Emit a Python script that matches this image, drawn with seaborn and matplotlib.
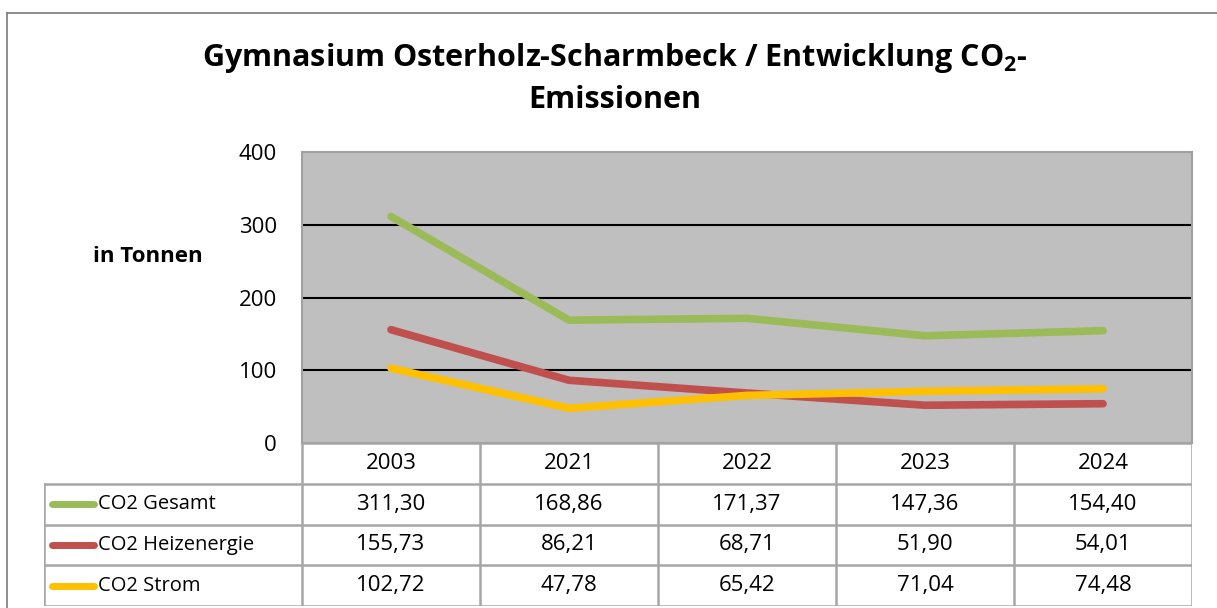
import matplotlib.pyplot as plt
import pandas as pd
import seaborn as sns
from matplotlib.lines import Line2D

years = ['2003', '2021', '2022', '2023', '2024']
gesamt = [311.30, 168.86, 171.37, 147.36, 154.40]
heizenergie = [155.73, 86.21, 68.71, 51.90, 54.01]
strom = [102.72, 47.78, 65.42, 71.04, 74.48]
series_names = ['CO2 Gesamt', 'CO2 Heizenergie', 'CO2 Strom']
series_colors = ['#9BBB59', '#C0504D', '#FFC000']

sns.set_theme(style='white')
plt.rcParams.update({
  'font.family': ['Open Sans', 'DejaVu Sans'],
  'text.color': 'black',
  'ytick.color': 'black',
  'ytick.labelcolor': 'black',
  'mathtext.fontset': 'custom',
  'mathtext.rm': 'Open Sans:bold',
  'mathtext.bf': 'Open Sans:bold',
})

df = pd.DataFrame({
  'year': years * 3,
  'value': gesamt + heizenergie + strom,
  'series': [s for s in series_names for _ in years],
})

W, H = 1217, 608
fig = plt.figure(figsize=(W / 100, H / 100), dpi=100)

def fx(px):
  return px / W

def fy(py):
  return 1 - py / H

# chart frame
fig.add_artist(Line2D([fx(7), 1], [fy(13), fy(13)], color='#7a7a7a', lw=1.2))
fig.add_artist(Line2D([fx(7), fx(7)], [fy(13), 0], color='#7a7a7a', lw=1.2))

# plot area
ax = fig.add_axes([fx(302), fy(443), fx(1192) - fx(302), fy(152) - fy(443)])
ax.set_facecolor('#BFBFBF')
for y in [100, 200, 300]:
  ax.axhline(y, color='black', lw=1.5, zorder=1)
sns.lineplot(
  data=df, x='year', y='value', hue='series',
  palette=dict(zip(series_names, series_colors)),
  linewidth=5.5, legend=False, ax=ax, zorder=3,
  solid_capstyle='round', solid_joinstyle='round'
)
ax.set_xlim(-0.5, len(years) - 0.5)
ax.set_ylim(0, 400)
ax.set_yticks([0, 100, 200, 300, 400])
ax.set_xticks([])
ax.set_xlabel('')
ax.set_ylabel('')
ax.tick_params(axis='y', length=0, pad=18, labelsize=16, labelcolor='black')
for s in ax.spines.values():
  s.set_color('#A0A0A0')
  s.set_linewidth(1.5)

fig.text(fx(148), fy(256), 'in Tonnen', ha='center', va='center',
         fontsize=16, fontweight='bold')

fig.text(fx(615), fy(58), r'Gymnasium Osterholz-Scharmbeck / Entwicklung CO$_2$-',
         ha='center', va='center', fontsize=22, fontweight='bold')
fig.text(fx(615), fy(100), 'Emissionen',
         ha='center', va='center', fontsize=22, fontweight='bold')

# data table
legend_w = (302 - 44) / 178
tab = fig.add_axes([fx(44), fy(606), fx(1192) - fx(44), fy(443) - fy(606)])
tab.set_xlim(-0.5 - legend_w, len(years) - 0.5)
tab.set_ylim(4, 0)
tab.axis('off')
grid = dict(color='#A6A6A6', lw=1.8, solid_capstyle='projecting')
left = -0.5 - legend_w
right = len(years) - 0.5
# horizontal lines
tab.plot([-0.5, right], [0, 0], **grid)
for r in [1, 2, 3, 4]:
  tab.plot([left, right], [r, r], **grid)
# vertical lines
tab.plot([left, left], [1, 4], **grid)
for c in range(len(years) + 1):
  tab.plot([c - 0.5, c - 0.5], [0, 4], **grid)

for i, yr in enumerate(years):
  tab.text(i, 0.5, yr, ha='center', va='center', fontsize=16)

rows = [gesamt, heizenergie, strom]
for r, (name, color, vals) in enumerate(zip(series_names, series_colors, rows)):
  yc = r + 1.5
  tab.plot([left + 8 / 178, left + 50 / 178], [yc, yc], color=color, lw=5,
           solid_capstyle='round')
  tab.text(left + 54 / 178, yc, name, ha='left', va='center', fontsize=14.5)
  for i, v in enumerate(vals):
    tab.text(i, yc, f'{v:.2f}'.replace('.', ','), ha='center', va='center',
             fontsize=16)

fig.savefig('out.png', dpi=100)
